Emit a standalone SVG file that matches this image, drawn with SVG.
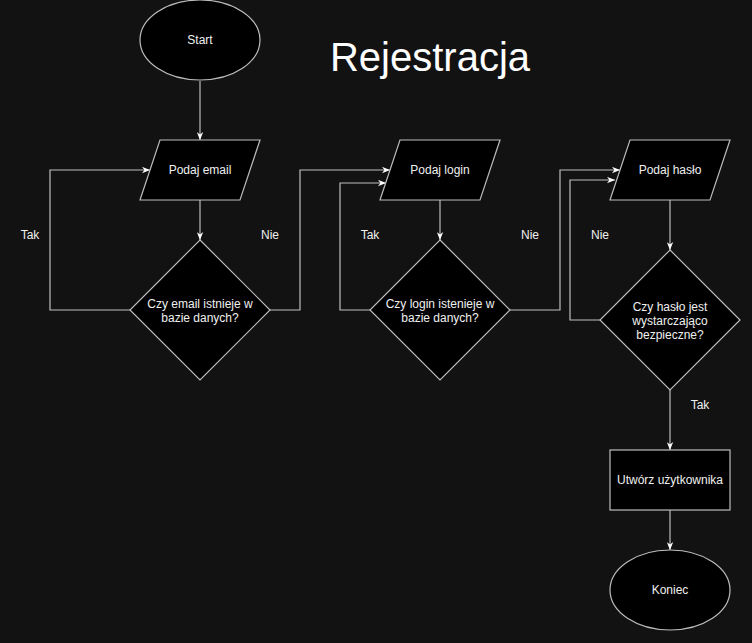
<svg xmlns="http://www.w3.org/2000/svg" width="752" height="643" viewBox="0 0 752 643">
<defs>
<style>
.shape{fill:#000;stroke:#bdbdbd;stroke-width:1.2}
.edge{fill:none;stroke:#bdbdbd;stroke-width:1.2}
text{font-family:"Liberation Sans",Arial,sans-serif;font-size:12px;fill:#f0f0f0;text-anchor:middle}
.title{font-size:40px;fill:#fff}
</style>
<marker id="arr" viewBox="0 0 10 8" markerWidth="8" markerHeight="7" refX="10" refY="4" orient="auto" markerUnits="userSpaceOnUse">
<path d="M0,0 L10,4 L0,8 L3,4 Z" fill="#fff"/>
</marker>
</defs>
<rect width="752" height="643" fill="#121212"/>
<text class="title" x="430" y="71">Rejestracja</text>
<g id="edges">
<path class="edge" d="M200,81 V140" marker-end="url(#arr)"/>
<path class="edge" d="M200,200 V240" marker-end="url(#arr)"/>
<path class="edge" d="M130,310 H50 V170 H150" marker-end="url(#arr)"/>
<path class="edge" d="M270,310 H300 V170 H390" marker-end="url(#arr)"/>
<path class="edge" d="M440,200 V240" marker-end="url(#arr)"/>
<path class="edge" d="M370,310 H340 V183 H386" marker-end="url(#arr)"/>
<path class="edge" d="M510,310 H560 V170 H620" marker-end="url(#arr)"/>
<path class="edge" d="M670,200 V250" marker-end="url(#arr)"/>
<path class="edge" d="M600,320 H570 V180 H615" marker-end="url(#arr)"/>
<path class="edge" d="M670,390 V450" marker-end="url(#arr)"/>
<path class="edge" d="M670,510 V550" marker-end="url(#arr)"/>
<text x="30" y="239">Tak</text>
<text x="270" y="239">Nie</text>
<text x="370" y="239">Tak</text>
<text x="530" y="239">Nie</text>
<text x="600" y="239">Nie</text>
<text x="700" y="409">Tak</text>
</g>
<g id="start">
<ellipse class="shape" cx="200" cy="40" rx="60" ry="40"/>
<text x="200" y="44">Start</text>
</g>
<g id="podaj-email">
<polygon class="shape" points="160,140 260,140 240,200 140,200"/>
<text x="200" y="174">Podaj email</text>
</g>
<g id="czy-email">
<polygon class="shape" points="200,240 270,310 200,380 130,310"/>
<text x="200" y="308">Czy email istnieje w</text>
<text x="200" y="322">bazie danych?</text>
</g>
<g id="podaj-login">
<polygon class="shape" points="400,140 500,140 480,200 380,200"/>
<text x="440" y="174">Podaj login</text>
</g>
<g id="czy-login">
<polygon class="shape" points="440,240 510,310 440,380 370,310"/>
<text x="440" y="308">Czy login istenieje w</text>
<text x="440" y="322">bazie danych?</text>
</g>
<g id="podaj-haslo">
<polygon class="shape" points="630,140 730,140 710,200 610,200"/>
<text x="670" y="174">Podaj hasło</text>
</g>
<g id="czy-haslo">
<polygon class="shape" points="670,250 740,320 670,390 600,320"/>
<text x="670" y="311">Czy hasło jest</text>
<text x="670" y="325">wystarczająco</text>
<text x="670" y="339">bezpieczne?</text>
</g>
<g id="utworz">
<rect class="shape" x="610" y="450" width="120" height="60"/>
<text x="670" y="484">Utwórz użytkownika</text>
</g>
<g id="koniec">
<ellipse class="shape" cx="670" cy="590" rx="60" ry="40"/>
<text x="670" y="594">Koniec</text>
</g>
</svg>
